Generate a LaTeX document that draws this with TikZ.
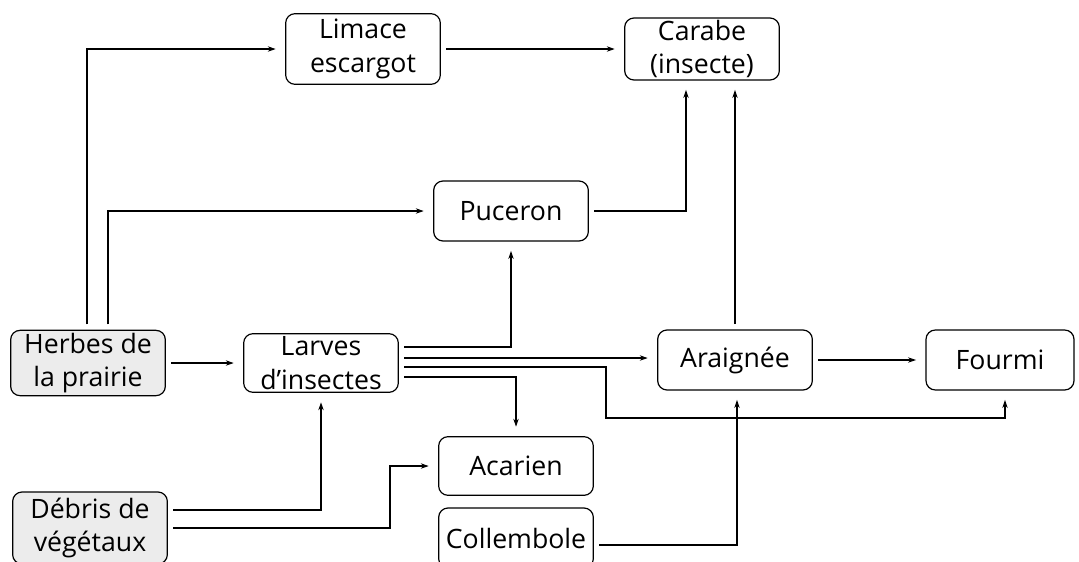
\documentclass[tikz,border=0pt]{standalone}
\usepackage{fontspec}
\setmainfont{Open Sans}
\usetikzlibrary{arrows.meta}

\begin{document}
\begin{tikzpicture}[x=0.75pt, y=-0.75pt,
        nodes={draw, rounded corners=7pt, line width=0.9pt, align=center,
                minimum width=116pt, inner sep=1pt,
                font=\fontsize{20}{25}\selectfont},
        source/.style={fill=gray!15},
        fleche/.style={-{Stealth[length=6pt,width=4pt]}, line width=0.8pt,
                shorten <=4pt, shorten >=7pt}]
                \useasboundingbox (0,0) rectangle (1079,561);
                \node[minimum height=53pt] (limace) at (363,49) {Limace\\escargot};
                \node[minimum height=46.5pt] (carabe) at (702,49) {Carabe\\(insecte)};
                \node[minimum height=45pt] (puceron) at (511,211) {Puceron};
                \node[source, minimum height=49pt] (herbes) at (88,363) {Herbes de\\la prairie};
                \node[minimum height=44pt] (larves) at (321,363) {Larves\\d’insectes};
                \node[minimum height=45pt] (araignee) at (735,360) {Araignée};
                \node[minimum height=45pt, minimum width=111pt] (fourmi) at (1000,360) {Fourmi};
                \node[minimum height=44pt] (acarien) at (516,466) {Acarien};
                \node[minimum height=45pt] (collembole) at (516,538) {Collembole};
                \node[source, minimum height=54pt] (debris) at (90,528) {Débris de\\végétaux};
                \coordinate (coude) at (606,418);
                \coordinate (coude2) at (390,466);

                \draw[fleche] ([xshift=-0.75pt]herbes.north) |- (limace);
                \draw[fleche] ([xshift=15pt]herbes.north) |- (puceron);
                \draw[fleche] (herbes) -- (larves);
                \draw[fleche] (limace) -- (carabe);
                \draw[fleche] (puceron) -| ([xshift=-12pt]carabe.south);
                \draw[fleche] (araignee) -- (araignee |- carabe.south);
                \draw[fleche] ([yshift=12pt]larves.east) -| (puceron);
                \draw[fleche] ([yshift=3.75pt]larves.east) -- ([yshift=3.75pt]larves.east -| araignee.west);
                \draw[fleche] ([yshift=-3pt]larves.east) -| (coude) -| ([xshift=3.75pt]fourmi.south);
                \draw[fleche] ([yshift=-10.5pt]larves.east) -| (acarien);
                \draw[fleche] (araignee) -- (fourmi);
                \draw[fleche] ([yshift=13.5pt]debris.east) -| (larves);
                \draw[fleche] (debris) -| (coude2) -- (acarien);
                \draw[fleche] ([yshift=-5.25pt]collembole.east) -| ([xshift=1.5pt]araignee.south);
\end{tikzpicture}
\end{document}
